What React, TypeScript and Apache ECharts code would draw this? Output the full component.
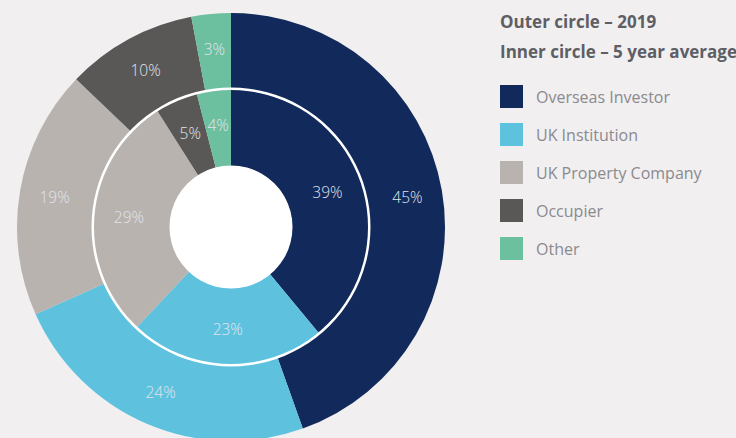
import React, { useEffect, useRef } from "react";
import * as echarts from "echarts";

const categories = ["Overseas Investor", "UK Institution", "UK Property Company", "Occupier", "Other"];
const outer2019 = [45, 24, 19, 10, 3];
const innerAvg = [39, 23, 29, 5, 4];
const colors = ["#11295b", "#5ec2df", "#b8b3af", "#595856", "#6cbf9f"];
const titleLines = ["Outer circle – 2019", "Inner circle – 5 year average"];

export default function App() {
  const ref = useRef<HTMLDivElement>(null);
  useEffect(() => {
    const chart = echarts.init(ref.current!, null, { renderer: "svg" });
    const center = [231, 227];
    const label = {
      show: true,
      position: "inside",
      formatter: "{c}%",
      color: "#e2e4ec",
      fontSize: 15.5,
      fontFamily: "Open Sans",
      fontWeight: 300,
    };
    chart.setOption({
      animation: false,
      backgroundColor: "#f1eff0",
      color: colors,
      title: {
        text: titleLines.join("\n"),
        left: 500,
        top: 6,
        padding: 0,
        textStyle: {
          fontFamily: "Open Sans",
          fontWeight: "bold",
          fontSize: 17,
          lineHeight: 30,
          color: "#5e5e65",
        },
      },
      legend: {
        orient: "vertical",
        left: 500,
        top: 85,
        padding: 0,
        itemWidth: 23,
        itemHeight: 23,
        itemGap: 15,
        icon: "rect",
        data: categories,
        selectedMode: false,
        textStyle: {
          fontFamily: "Open Sans",
          fontSize: 16,
          color: "#8a8a8f",
          padding: [0, 0, 0, 8],
        },
      },
      series: [
        {
          type: "pie",
          name: "2019",
          center,
          radius: [138, 214],
          startAngle: 90,
          label,
          labelLine: { show: false },
          silent: true,
          data: categories.map((c, i) => ({ name: c, value: outer2019[i] })),
        },
        {
          type: "pie",
          name: "5 year average",
          center,
          radius: [61, 138],
          startAngle: 90,
          label,
          labelLine: { show: false },
          silent: true,
          data: categories.map((c, i) => ({ name: c, value: innerAvg[i] })),
        },
        {
          type: "pie",
          center,
          radius: [137, 139.5],
          silent: true,
          label: { show: false },
          labelLine: { show: false },
          itemStyle: { color: "#ffffff" },
          data: [{ name: "ring", value: 1 }],
        },
        {
          type: "pie",
          center,
          radius: [0, 61.5],
          silent: true,
          label: { show: false },
          labelLine: { show: false },
          itemStyle: { color: "#ffffff" },
          data: [{ name: "hole", value: 1 }],
        },
      ],
    });
    return () => chart.dispose();
  }, []);
  return <div ref={ref} style={{ width: 736, height: 438, position: "fixed", left: 0, top: 0 }} />;
}
